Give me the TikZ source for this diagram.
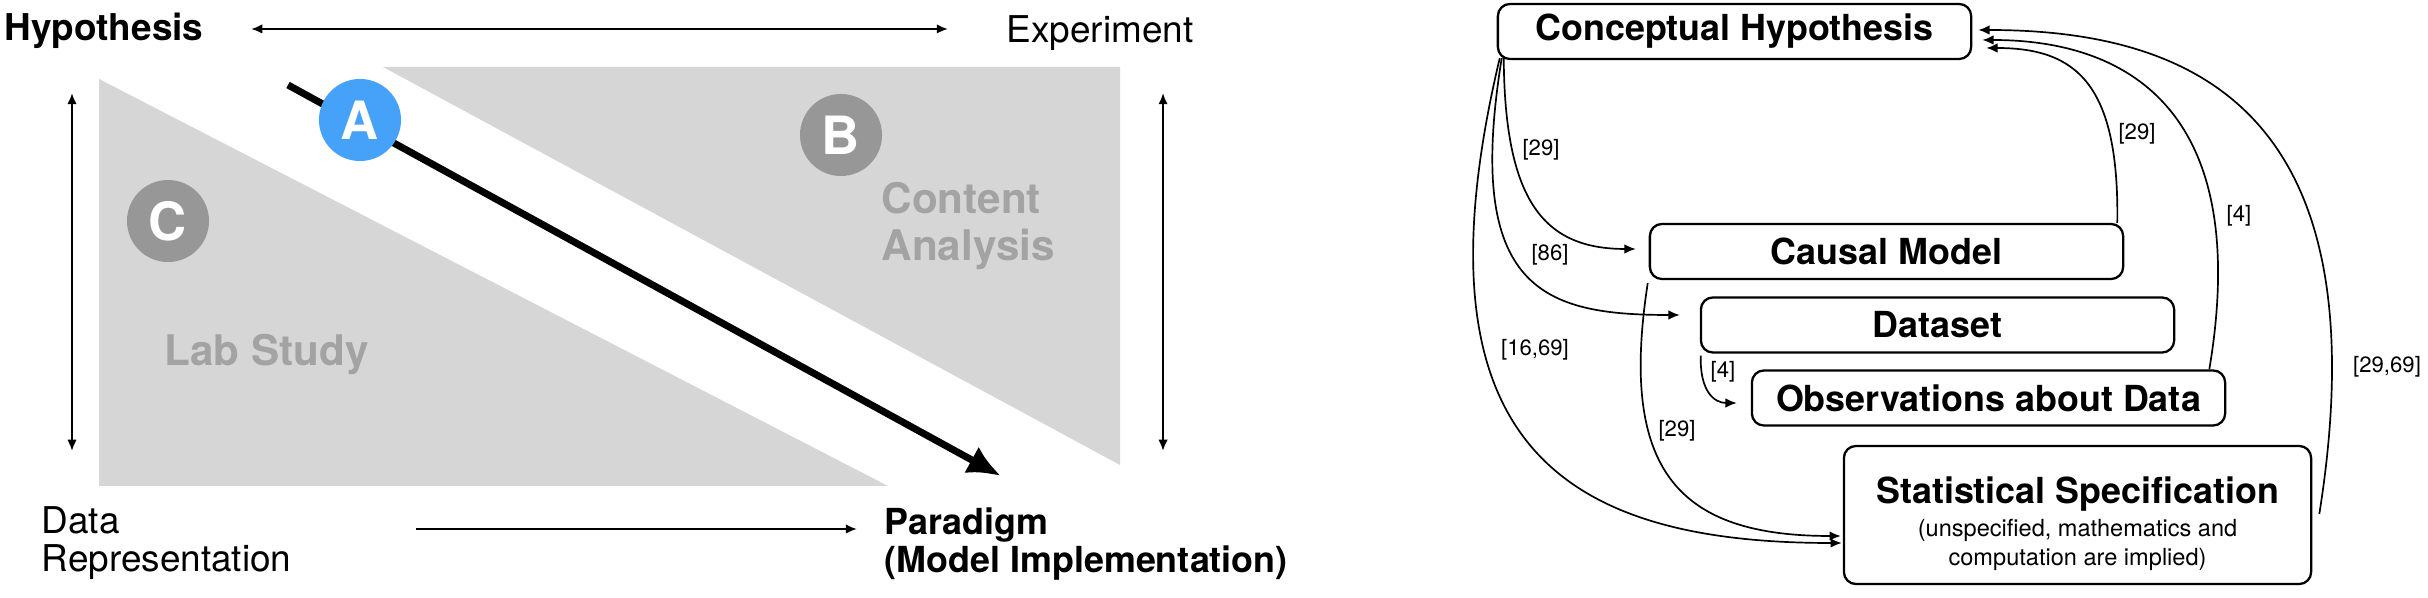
\documentclass[tikz,border=0pt]{standalone}
\usepackage{fontspec}
\setmainfont{TeX Gyre Heros}
\usetikzlibrary{arrows.meta,calc}

\definecolor{wedgegray}{HTML}{D6D6D6}
\definecolor{dotgray}{HTML}{979797}
\definecolor{txtgray}{HTML}{A3A3A3}
\definecolor{dotblue}{HTML}{46A2F8}
\newcommand{\subtxt}{\mdseries\fontsize{6.7}{8}\selectfont}

\begin{document}
\begin{tikzpicture}[x=0.01cm,y=-0.01cm,>={Latex[length=3.2pt,width=2.7pt]},
    lbl/.style={inner sep=0,anchor=west,align=left,font=\fontsize{10.5}{10.8}\selectfont},
    head/.style={lbl,font=\bfseries\fontsize{10.5}{10.8}\selectfont},
    faint/.style={inner sep=0,anchor=west,align=left,text=txtgray,font=\bfseries\fontsize{12}{13.6}\selectfont},
    dot/.style={circle,inner sep=0,minimum size=0.82cm,text=white,font=\bfseries\fontsize{15}{18}\selectfont},
    box/.style={draw,rounded corners=0.12cm,line width=0.65pt,minimum width=4.73cm,minimum height=0.55cm,inner sep=0,font=\bfseries\fontsize{10.2}{12}\selectfont},
    cite/.style={inner sep=0,font=\fontsize{6.3}{7.5}\selectfont},
    link/.style={->,line width=0.48pt}]
  \useasboundingbox (0,0) rectangle (2428,598) ;

  % left half: shaded wedges
  \fill[wedgegray] (99,79) -- (99,486) -- (888,486) -- cycle ;
  \fill[wedgegray] (383,67) -- (1120,67) -- (1120,465) -- cycle ;

  \node[head] (hyp) at (4,31) {Hypothesis} ;
  \node[lbl] (exp) at (1006,33) {Experiment} ;
  \node[lbl] (data) at (41,543) {Data\\Representation} ;
  \node[head,font=\bfseries\fontsize{10.2}{10.8}\selectfont] (para) at (884,544) {Paradigm\\(Model Implementation)} ;
  \node[faint] (content) at (881,226) {Content\\Analysis} ;
  \node[faint] (lab) at (164,354) {Lab Study} ;

  \coordinate (topl) at (251,29) ;  \coordinate (topr) at (948,29) ;
  \coordinate (lefth) at (72,93) ;  \coordinate (leftl) at (72,451) ;
  \coordinate (righth) at (1163,93) ; \coordinate (rightl) at (1163,451) ;
  \coordinate (botl) at (416,529) ; \coordinate (botr) at (857,529) ;
  \draw[<->,line width=0.6pt] (topl) -- (topr) ;
  \draw[<->,line width=0.6pt] (lefth) -- (leftl) ;
  \draw[<->,line width=0.6pt] (righth) -- (rightl) ;
  \draw[->,line width=0.6pt] (botl) -- (botr) ;

  % the diagonal path A
  \coordinate (diagfrom) at (288,85) ; \coordinate (diagto) at (1001,476) ;
  \draw[line width=2pt,-{Latex[length=9.5pt,width=8.5pt]}] (diagfrom) -- (diagto) ;
  \node[dot,fill=dotblue] (a) at (360,120) {A} ;
  \node[dot,fill=dotgray] (b) at (841,135) {B} ;
  \node[dot,fill=dotgray] (c) at (168,221) {C} ;

  % right half: boxes
  \node[box] (ch) at (1734.5,31.5) {Conceptual Hypothesis} ;
  \node[box] (cm) at (1886.5,251.5) {Causal Model} ;
  \node[box] (ds) at (1937.5,325) {Dataset} ;
  \node[box] (ob) at (1988.5,398) {Observations about Data} ;
  \node[box,minimum width=4.67cm,minimum height=1.38cm,align=center] (ss) at (2077.5,515)
    {\rule{0pt}{12.6pt}Statistical Specification\\[-2.7pt]{\subtxt (unspecified, mathematics and}\\[-3.75pt]{\subtxt computation are implied)}} ;

  \draw[link] ($(ch.south west)+(7,-2)$) .. controls +(1,143) and +(-92,0) .. ($(cm.west)+(-13,-2.5)$) ;
  \draw[link] ($(ch.south west)+(5,-2)$) .. controls +(-38,233) and +(-135,0) .. ($(ds.west)+(-20,-10)$) ;
  \draw[link] ($(ch.south west)+(3,-2)$) .. controls +(-91,383) and +(-283,0) .. ($(ss.west)+(-1,28)$) ;
  \draw[link] ($(cm.south west)+(-1,3)$) .. controls +(-29,188) and +(-162,0) .. ($(ss.west)+(-2,21)$) ;
  \draw[link] ($(ds.south west)+(1,2)$) .. controls +(-1,35) and +(-23,0) .. ($(ob.west)+(-14,5)$) ;
  \draw[link] ($(cm.north east)+(-7,0)$) .. controls +(2,-139) and +(90,0) .. ($(ch.east)+(14,16.5)$) ;
  \draw[link] ($(ob.north east)+(-17,0)$) .. controls +(42,-250) and +(154,0) .. ($(ch.east)+(10,8.5)$) ;
  \draw[link] ($(ss.east)+(7,-1)$) .. controls +(63,-396) and +(223,0) .. ($(ch.east)+(6,-1.5)$) ;

  \node[cite] (c1) at (1541,150) {[29]} ;
  \node[cite] (c2) at (1550,255) {[86]} ;
  \node[cite] (c3) at (1535,350) {[16,69]} ;
  \node[cite] (c4) at (1677,431) {[29]} ;
  \node[cite] (c5) at (1723,372) {[4]} ;
  \node[cite] (c6) at (2137,134) {[29]} ;
  \node[cite] (c7) at (2239,216) {[4]} ;
  \node[cite] (c8) at (2387,367) {[29,69]} ;
\end{tikzpicture}
\end{document}
